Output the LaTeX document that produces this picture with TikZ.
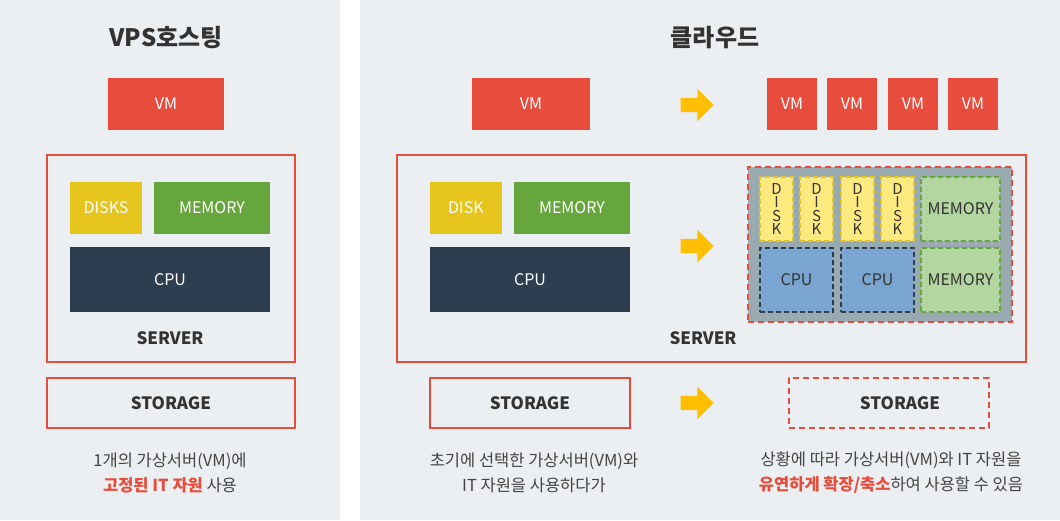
\documentclass[tikz,border=0pt]{standalone}
\usepackage{fontspec}
\setmainfont{Noto Sans CJK KR}
\usetikzlibrary{shapes.arrows}
\definecolor{panelgray}{RGB}{235,239,241}
\definecolor{vmred}{RGB}{231,76,60}
\definecolor{diskyellow}{RGB}{229,197,30}
\definecolor{memgreen}{RGB}{103,166,61}
\definecolor{cpunavy}{RGB}{44,62,80}
\definecolor{arrowyellow}{RGB}{255,191,0}
\definecolor{poolgray}{RGB}{152,170,176}
\definecolor{disklight}{RGB}{255,234,128}
\definecolor{memlight}{RGB}{179,213,160}
\definecolor{cpulight}{RGB}{122,165,208}
\definecolor{inkdark}{RGB}{51,51,51}
\definecolor{inknote}{RGB}{68,68,68}

\begin{document}
\begin{tikzpicture}[x=1pt, y=-1pt, inner sep=0pt,
			wh/.style 2 args={minimum width=#1pt, minimum height=#2pt},
			boxlabel/.style={font=\fontsize{16}{18}\selectfont},
			vm/.style={boxlabel, fill=vmred, text=white},
			solid part/.style={boxlabel, fill=#1, text=white},
			pool part/.style 2 args={boxlabel, fill=#1, draw=#2, line width=1.6pt, dash pattern=on 5pt off 3pt, text=inkdark},
			frame/.style={draw=vmred, line width=2pt},
			dashframe/.style={frame, dash pattern=on 6pt off 4pt},
			heading/.style={font=\fontsize{24}{28}\selectfont\bfseries, text=inkdark},
			tag/.style={font=\fontsize{17}{20}\selectfont\bfseries, text=inkdark},
			note/.style={font=\fontsize{16.5}{25}\selectfont, text=inknote, align=center},
			push/.style={single arrow, fill=arrowyellow, inner sep=7pt, minimum height=33pt, single arrow head extend=9pt}]
			\useasboundingbox (0,0) rectangle (1060,520);
			\fill[panelgray] (0,0) rectangle (340,520);
			\fill[panelgray] (360,0) rectangle (1060,520);

			% VPS hosting
			\node[heading] (vpsTitle) at (166,38) {VPS호스팅};
			\node[vm, wh={116}{52}] (vpsVm) at (166,104) {VM};
			\node[frame, wh={248}{207}] (vpsServer) at (171,258.5) {};
			\node[solid part=diskyellow, wh={72}{52}] (vpsDisk) at (106,208) {DISKS};
			\node[solid part=memgreen, wh={116}{52}] (vpsMem) at (212,208) {MEMORY};
			\node[solid part=cpunavy, wh={200}{65}] (vpsCpu) at (170,279.5) {CPU};
			\node[tag] (vpsServerTag) at (170,338) {SERVER};
			\node[frame, tag, wh={248}{50}] (vpsStorage) at (171,403) {STORAGE};
			\node[note] (vpsNote) at (170,472.5) {1개의 가상서버(VM)에\\{\color{vmred}\bfseries 고정된 IT 자원} 사용};

			% cloud
			\node[heading] (cloudTitle) at (715,38) {클라우드};
			\node[vm, wh={118}{52}] (cloudVm) at (531,104) {VM};
			\foreach \x [count=\i] in {792,852,913,973}
				\node[vm, wh={50}{52}] (cloudVm\i) at (\x,104) {VM};
			\node[frame, wh={629}{207}] (cloudServer) at (711.5,258.5) {};
			\node[solid part=diskyellow, wh={72}{52}] (cloudDisk) at (466,208) {DISK};
			\node[solid part=memgreen, wh={116}{52}] (cloudMem) at (572,208) {MEMORY};
			\node[solid part=cpunavy, wh={200}{65}] (cloudCpu) at (530,279.5) {CPU};
			\node[tag] (cloudServerTag) at (703,338) {SERVER};
			\node[fill=poolgray, dashframe, wh={264}{155}] (pool) at (880,244.5) {};
			\foreach \x [count=\i] in {776.5,816.5,857.5,897.5}
				\node[pool part={disklight}{diskyellow}, wh={33}{64}, align=center, font=\fontsize{15}{13.5}\selectfont] (poolDisk\i) at (\x,209) {D\\I\\S\\K};
			\node[pool part={memlight}{memgreen}, wh={79}{64}] (poolMemA) at (960.5,209) {MEMORY};
			\node[pool part={cpulight}{cpunavy}, wh={73}{64}] (poolCpuA) at (796.5,280) {CPU};
			\node[pool part={cpulight}{cpunavy}, wh={73}{64}] (poolCpuB) at (877.5,280) {CPU};
			\node[pool part={memlight}{memgreen}, wh={79}{64}] (poolMemB) at (960.5,280) {MEMORY};
			\node[frame, tag, wh={200}{50}] (cloudStorage) at (530,403) {STORAGE};
			\node[dashframe, wh={200}{50}] (scaledStorage) at (889,403) {};
			\node[tag] (scaledStorageTag) at (900,403) {STORAGE};
			\node[push] (pushVm) at (693.5,105) {};
			\node[push] (pushServer) at (693.5,246) {};
			\node[push] (pushStorage) at (693.5,403) {};
			\node[note] (cloudNoteA) at (534,472.5) {초기에 선택한 가상서버(VM)와\\IT 자원을 사용하다가};
			\node[note] (cloudNoteB) at (891,472.5) {상황에 따라 가상서버(VM)와 IT 자원을\\{\color{vmred}\bfseries 유연하게 확장/축소}하여 사용할 수 있음};
		\end{tikzpicture}
\end{document}
